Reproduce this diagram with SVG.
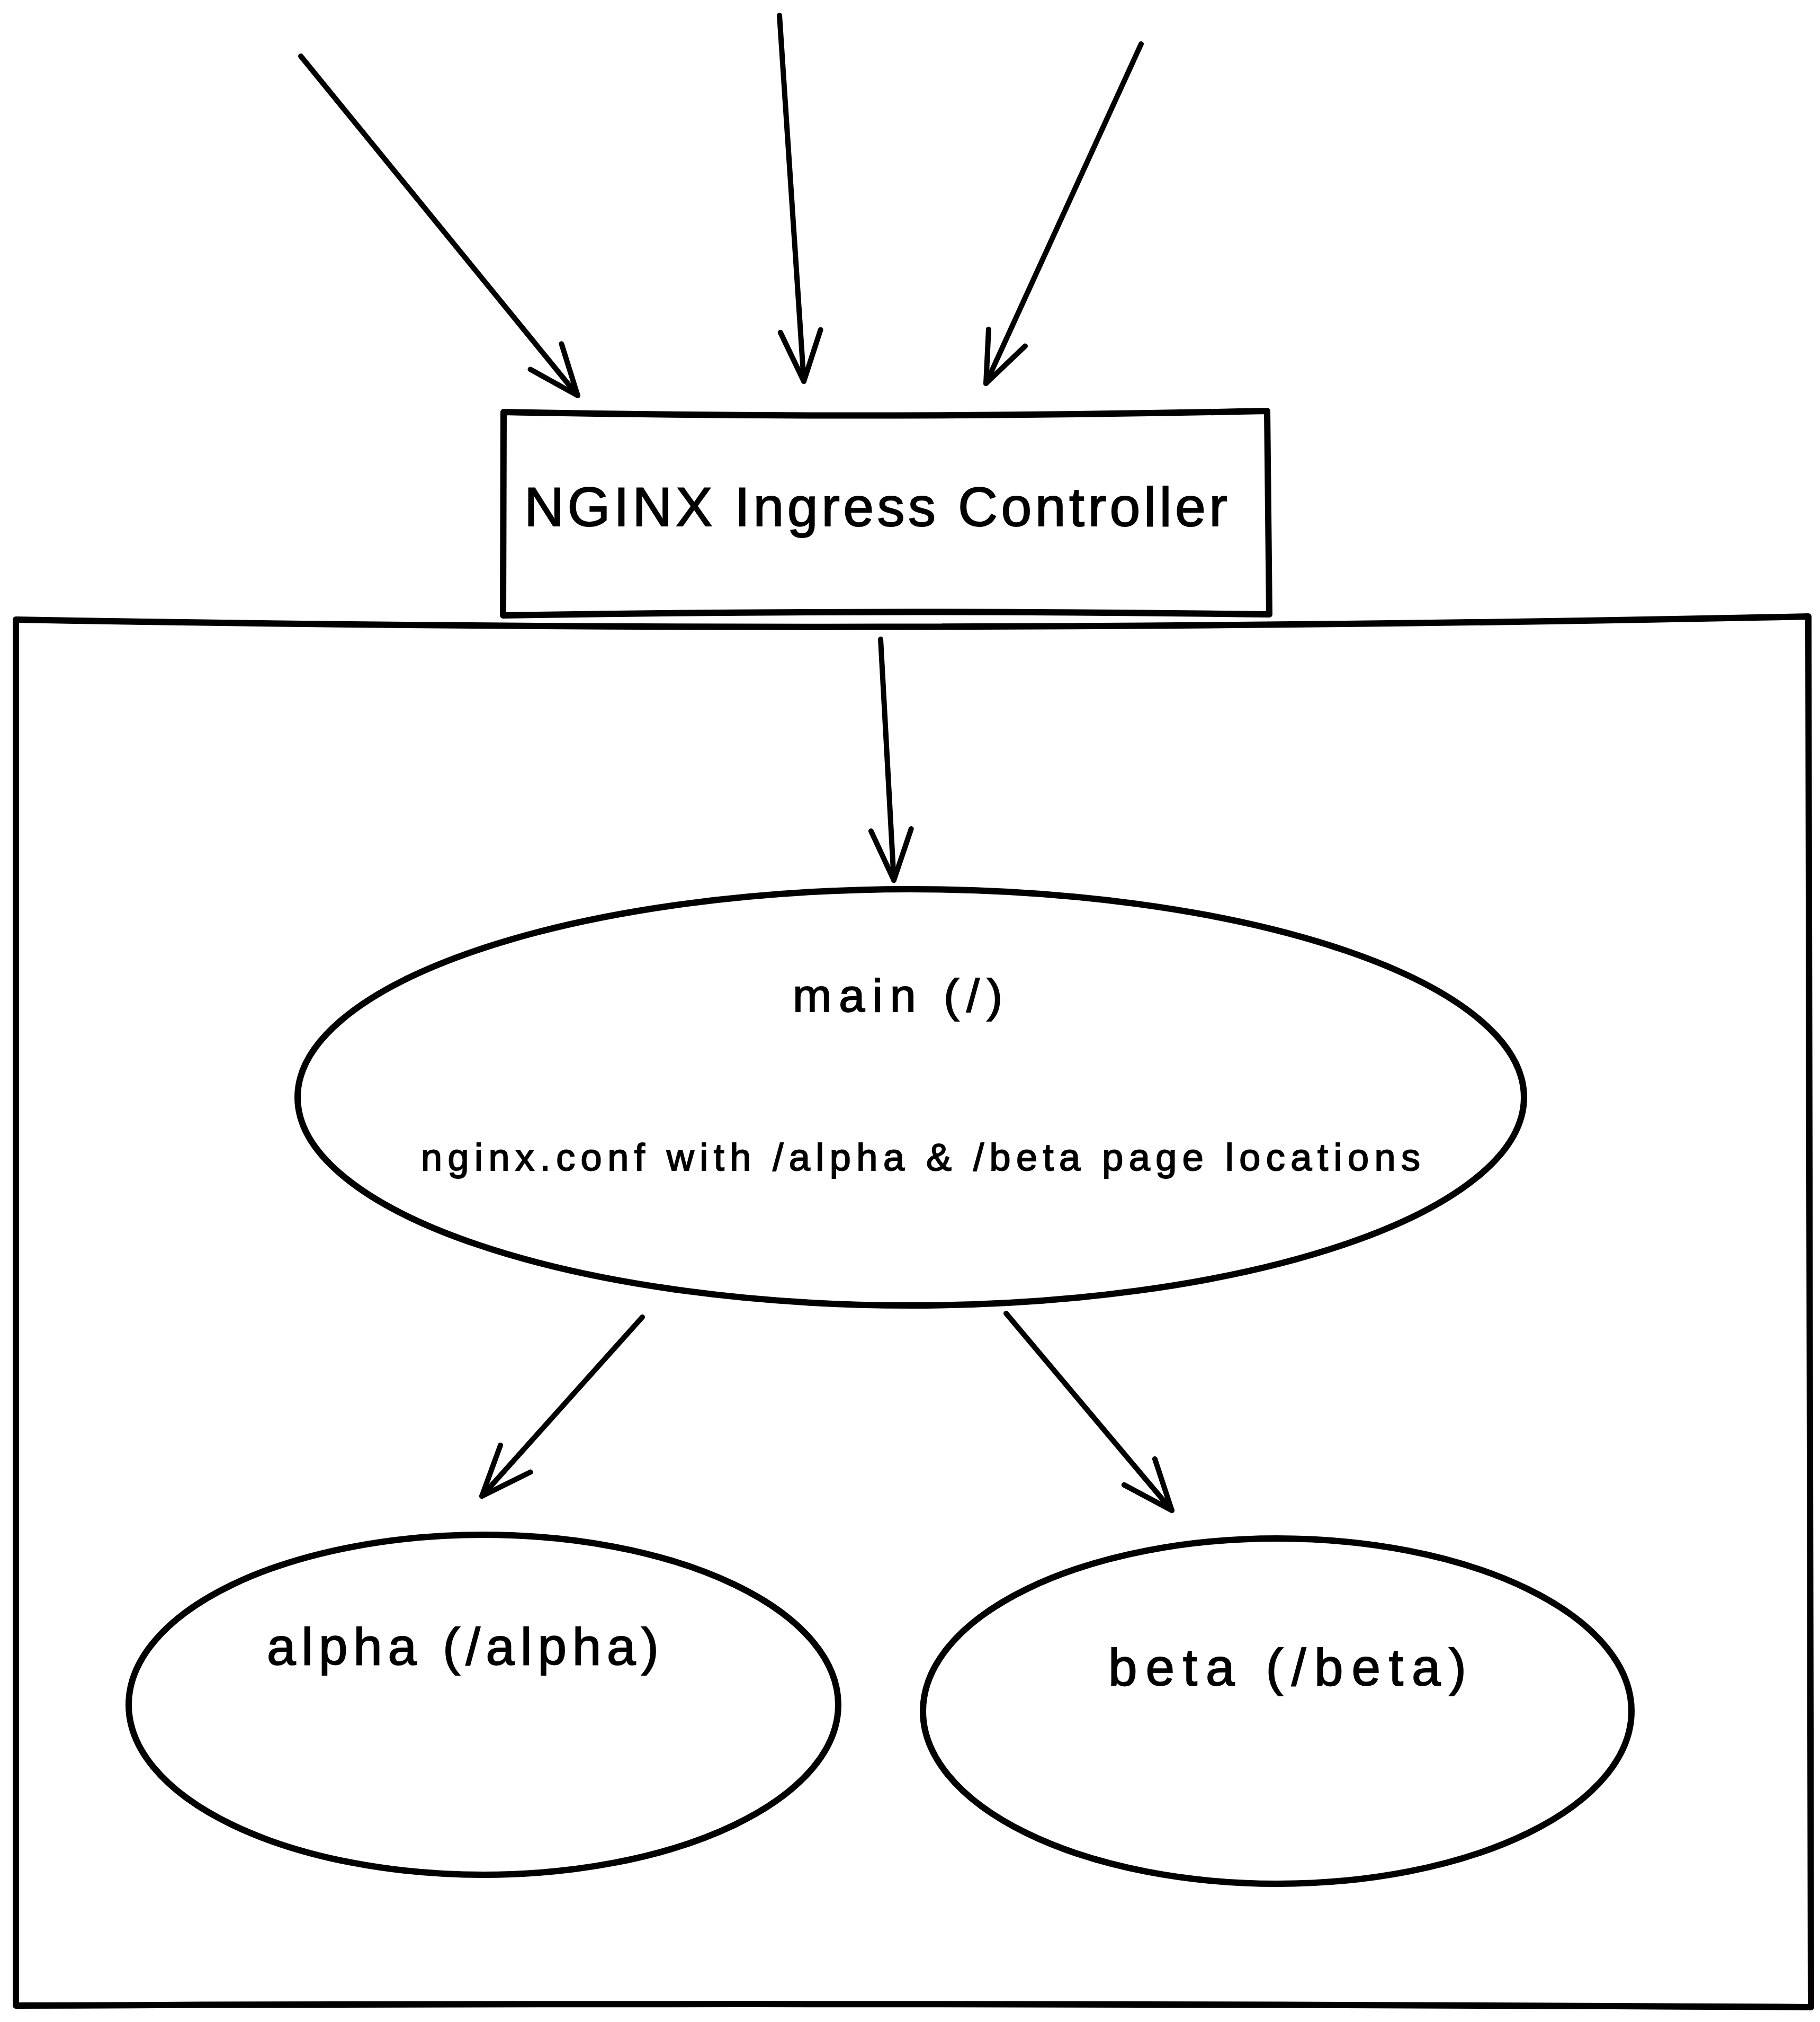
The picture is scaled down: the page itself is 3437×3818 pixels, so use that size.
<svg xmlns="http://www.w3.org/2000/svg" width="3437" height="3818" viewBox="0 0 3437 3818">
  <style>
    .shape { fill: none; stroke: #000; stroke-width: 12; stroke-linecap: round; stroke-linejoin: round; }
    .conn { fill: none; stroke: #000; stroke-width: 10; stroke-linecap: round; stroke-linejoin: round; }
    .lbl { font-family: "Liberation Sans", Arial, sans-serif; fill: #000; stroke: #000; stroke-width: 2; }
  </style>
  <defs>
    <marker id="arrow" markerUnits="userSpaceOnUse" viewBox="-110 -55 120 110" markerWidth="120" markerHeight="110" refX="0" refY="0" orient="auto" overflow="visible">
      <path d="M -95 -38 L 0 0 L -95 38" fill="none" stroke="#000" stroke-width="10" stroke-linecap="round" stroke-linejoin="round"/>
    </marker>
  </defs>
  <rect width="3437" height="3818" fill="#fff"/>

  <g id="cluster">
    <path class="shape" d="M 30 1170 Q 1700 1200 3415 1164 L 3420 3790 Q 1700 3780 30 3787 Z"/>
  </g>

  <g id="ingress-controller">
    <path class="shape" d="M 951 778 Q 1650 792 2393 776 L 2397 1160 Q 1650 1150 950 1162 Z"/>
    <text class="lbl" x="990" y="993" font-size="104" textLength="1328" lengthAdjust="spacing">NGINX Ingress Controller</text>
  </g>

  <g id="main">
    <ellipse class="shape" cx="1720" cy="2072" rx="1158" ry="393"/>
    <text class="lbl" x="1497" y="1910" font-size="88" textLength="396" lengthAdjust="spacing">main (/)</text>
    <text class="lbl" x="795" y="2210" font-size="72" textLength="1887" lengthAdjust="spacing">nginx.conf with /alpha &amp; /beta page locations</text>
  </g>

  <g id="alpha">
    <ellipse class="shape" cx="913" cy="3219" rx="670" ry="321"/>
    <text class="lbl" x="504" y="3143" font-size="98" textLength="740" lengthAdjust="spacing">alpha (/alpha)</text>
  </g>

  <g id="beta">
    <ellipse class="shape" cx="2412" cy="3231" rx="669" ry="326"/>
    <text class="lbl" x="2093" y="3182" font-size="98" textLength="676" lengthAdjust="spacing">beta (/beta)</text>
  </g>

  <g id="connectors">
    <path class="conn" d="M 568 106 L 1091 747" marker-end="url(#arrow)"/>
    <path class="conn" d="M 1472 29 L 1518 720" marker-end="url(#arrow)"/>
    <path class="conn" d="M 2155 83 L 1862 724" marker-end="url(#arrow)"/>
    <path class="conn" d="M 1663 1207 L 1688 1662" marker-end="url(#arrow)"/>
    <path class="conn" d="M 1213 2487 L 910 2825" marker-end="url(#arrow)"/>
    <path class="conn" d="M 1900 2480 L 2213 2852" marker-end="url(#arrow)"/>
  </g>
</svg>
